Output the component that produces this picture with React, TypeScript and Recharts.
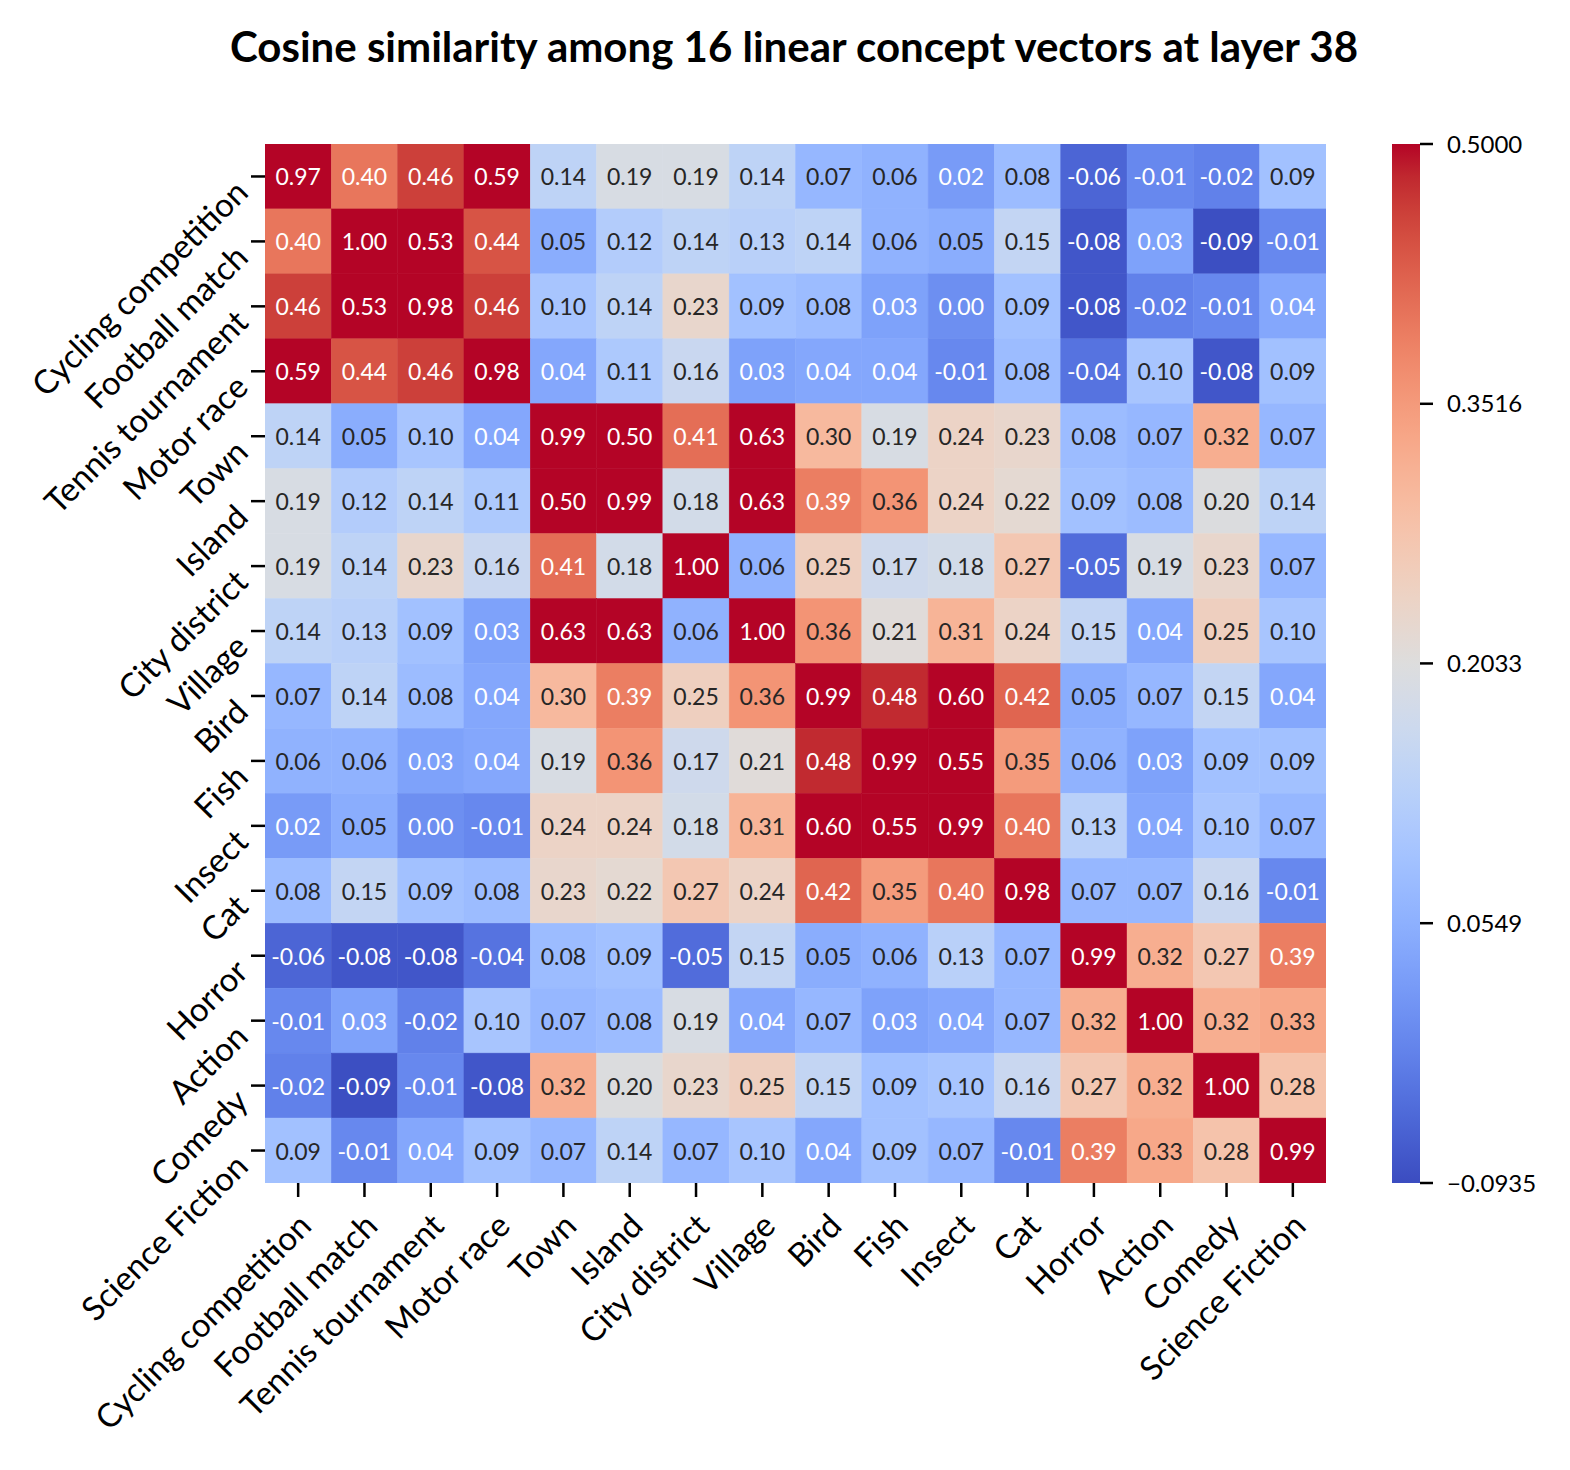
import React from 'react';
import { ScatterChart, Scatter, XAxis, YAxis, BarChart, Bar } from 'recharts';

const TITLE = 'Cosine similarity among 16 linear concept vectors at layer 38';

const concepts = [
  'Cycling competition', 'Football match', 'Tennis tournament', 'Motor race',
  'Town', 'Island', 'City district', 'Village',
  'Bird', 'Fish', 'Insect', 'Cat',
  'Horror', 'Action', 'Comedy', 'Science Fiction',
];

const rowCycling = [0.97, 0.40, 0.46, 0.59, 0.14, 0.19, 0.19, 0.14, 0.07, 0.06, 0.02, 0.08, -0.06, -0.01, -0.02, 0.09];
const rowFootball = [0.40, 1.00, 0.53, 0.44, 0.05, 0.12, 0.14, 0.13, 0.14, 0.06, 0.05, 0.15, -0.08, 0.03, -0.09, -0.01];
const rowTennis = [0.46, 0.53, 0.98, 0.46, 0.10, 0.14, 0.23, 0.09, 0.08, 0.03, 0.00, 0.09, -0.08, -0.02, -0.01, 0.04];
const rowMotor = [0.59, 0.44, 0.46, 0.98, 0.04, 0.11, 0.16, 0.03, 0.04, 0.04, -0.01, 0.08, -0.04, 0.10, -0.08, 0.09];
const rowTown = [0.14, 0.05, 0.10, 0.04, 0.99, 0.50, 0.41, 0.63, 0.30, 0.19, 0.24, 0.23, 0.08, 0.07, 0.32, 0.07];
const rowIsland = [0.19, 0.12, 0.14, 0.11, 0.50, 0.99, 0.18, 0.63, 0.39, 0.36, 0.24, 0.22, 0.09, 0.08, 0.20, 0.14];
const rowCity = [0.19, 0.14, 0.23, 0.16, 0.41, 0.18, 1.00, 0.06, 0.25, 0.17, 0.18, 0.27, -0.05, 0.19, 0.23, 0.07];
const rowVillage = [0.14, 0.13, 0.09, 0.03, 0.63, 0.63, 0.06, 1.00, 0.36, 0.21, 0.31, 0.24, 0.15, 0.04, 0.25, 0.10];
const rowBird = [0.07, 0.14, 0.08, 0.04, 0.30, 0.39, 0.25, 0.36, 0.99, 0.48, 0.60, 0.42, 0.05, 0.07, 0.15, 0.04];
const rowFish = [0.06, 0.06, 0.03, 0.04, 0.19, 0.36, 0.17, 0.21, 0.48, 0.99, 0.55, 0.35, 0.06, 0.03, 0.09, 0.09];
const rowInsect = [0.02, 0.05, 0.00, -0.01, 0.24, 0.24, 0.18, 0.31, 0.60, 0.55, 0.99, 0.40, 0.13, 0.04, 0.10, 0.07];
const rowCat = [0.08, 0.15, 0.09, 0.08, 0.23, 0.22, 0.27, 0.24, 0.42, 0.35, 0.40, 0.98, 0.07, 0.07, 0.16, -0.01];
const rowHorror = [-0.06, -0.08, -0.08, -0.04, 0.08, 0.09, -0.05, 0.15, 0.05, 0.06, 0.13, 0.07, 0.99, 0.32, 0.27, 0.39];
const rowAction = [-0.01, 0.03, -0.02, 0.10, 0.07, 0.08, 0.19, 0.04, 0.07, 0.03, 0.04, 0.07, 0.32, 1.00, 0.32, 0.33];
const rowComedy = [-0.02, -0.09, -0.01, -0.08, 0.32, 0.20, 0.23, 0.25, 0.15, 0.09, 0.10, 0.16, 0.27, 0.32, 1.00, 0.28];
const rowSciFi = [0.09, -0.01, 0.04, 0.09, 0.07, 0.14, 0.07, 0.10, 0.04, 0.09, 0.07, -0.01, 0.39, 0.33, 0.28, 0.99];

const matrix = [
  rowCycling, rowFootball, rowTennis, rowMotor, rowTown, rowIsland, rowCity, rowVillage,
  rowBird, rowFish, rowInsect, rowCat, rowHorror, rowAction, rowComedy, rowSciFi,
];

const VMIN = -0.0935;
const VMAX = 0.5;
const colorbarTicks = [-0.0935, 0.0549, 0.2033, 0.3516, 0.5];

// matplotlib coolwarm (Moreland) control points, 33 evenly spaced
const CW_R = [0.2298057, 0.26623388, 0.30386891, 0.342804478, 0.38301334, 0.424369608, 0.46666708, 0.509635204, 0.552953156, 0.596262162, 0.639176211, 0.681291281, 0.722193294, 0.761464949, 0.798691636, 0.833466556, 0.865395197, 0.897787179, 0.924127593, 0.944468518, 0.958852946, 0.96732803, 0.969954137, 0.966811177, 0.958003065, 0.943660866, 0.923944917, 0.89904617, 0.869186849, 0.834620542, 0.795631745, 0.752534934, 0.705673158];
const CW_G = [0.298717966, 0.353094838, 0.406535296, 0.458757618, 0.50941904, 0.558148092, 0.604562568, 0.648280772, 0.688929332, 0.726149107, 0.759599947, 0.788964712, 0.813952739, 0.834302879, 0.849786142, 0.860207984, 0.86541021, 0.848937047, 0.827384882, 0.800927443, 0.769767752, 0.734132809, 0.694266682, 0.650421156, 0.602842431, 0.551750968, 0.49730856, 0.439559467, 0.378313092, 0.312874446, 0.24128379, 0.157246067, 0.01555616];
const CW_B = [0.753683153, 0.801466763, 0.84495867, 0.883725899, 0.917387822, 0.945619588, 0.968154911, 0.98478814, 0.995375608, 0.999836203, 0.998151185, 0.990363227, 0.976574709, 0.956945269, 0.931688648, 0.901068838, 0.865395561, 0.820880546, 0.774508472, 0.726736146, 0.678007945, 0.628751763, 0.579375448, 0.530263762, 0.481775914, 0.434243684, 0.387970225, 0.343229596, 0.300267182, 0.259301199, 0.220525627, 0.184115123, 0.150232812];

const coolwarmRGB = (t: number): [number, number, number] => {
  const tt = Math.max(0, Math.min(1, t));
  const n = CW_R.length - 1;
  const pos = tt * n;
  const i = Math.min(n - 1, Math.floor(pos));
  const f = pos - i;
  const lerp = (a: number[]) => a[i] + (a[i + 1] - a[i]) * f;
  return [lerp(CW_R), lerp(CW_G), lerp(CW_B)];
};

const toHex = (rgb: [number, number, number]) =>
  '#' + rgb.map((c) => Math.round(c * 255).toString(16).padStart(2, '0')).join('');

const valueColor = (v: number) => coolwarmRGB((v - VMIN) / (VMAX - VMIN));

const luminance = (rgb: [number, number, number]) => {
  const lin = rgb.map((c) => (c <= 0.03928 ? c / 12.92 : Math.pow((c + 0.055) / 1.055, 2.4)));
  return 0.2126 * lin[0] + 0.7152 * lin[1] + 0.0722 * lin[2];
};

const N = concepts.length;
const cellPoints = matrix.flatMap((row, r) =>
  row.map((v, c) => ({ x: c + 0.5, y: r + 0.5, v })),
);
const tickPositions = concepts.map((_, i) => i + 0.5);

// layout
const W = 1570;
const H = 1470;
const PLOT_LEFT = 265;
const PLOT_RIGHT = 1326;
const PLOT_TOP = 144;
const PLOT_BOTTOM = 1183;
const Y_AXIS_W = 60;
const X_AXIS_H = 60;
const CELL_W = (PLOT_RIGHT - PLOT_LEFT) / N;
const CELL_H = (PLOT_BOTTOM - PLOT_TOP) / N;
const FONT = 'Lato, "DejaVu Sans", sans-serif';
const TICK_FONT = 33;

const HeatCell = (props: any) => {
  const { cx, cy, payload } = props;
  if (cx == null || cy == null || !payload) return null;
  const rgb = valueColor(payload.v);
  const fill = toHex(rgb);
  const textColor = luminance(rgb) > 0.408 ? '#262626' : '#ffffff';
  return (
    <g>
      <rect x={cx - CELL_W / 2} y={cy - CELL_H / 2} width={CELL_W} height={CELL_H} fill={fill} stroke={fill} strokeWidth={0.5} />
      <text x={cx} y={cy} textAnchor="middle" dominantBaseline="central" fontSize={23} fontFamily={FONT} fill={textColor}>
        {payload.v.toFixed(2)}
      </text>
    </g>
  );
};

const XTick = (props: any) => {
  const { x, y, payload } = props;
  const label = concepts[Math.floor(payload.value)];
  const ax = x + 15;
  const ay = y + 31;
  return (
    <text x={ax} y={ay} transform={`rotate(-45 ${ax} ${ay})`} textAnchor="end" fontSize={TICK_FONT} fontFamily={FONT} fill="#000">
      {label}
    </text>
  );
};

const YTick = (props: any) => {
  const { x, y, payload } = props;
  const label = concepts[Math.floor(payload.value)];
  const ax = x - 1;
  const ay = y + 18;
  return (
    <text x={ax} y={ay} transform={`rotate(-45 ${ax} ${ay})`} textAnchor="end" fontSize={TICK_FONT} fontFamily={FONT} fill="#000">
      {label}
    </text>
  );
};

const cbData = [{ k: 'cb', range: [VMIN, VMAX] }];
const gradientStops = CW_R.map((_, i) => i / (CW_R.length - 1));

const fmtCb = (v: number) => (v < 0 ? '\u2212' + Math.abs(v).toFixed(4) : v.toFixed(4));

export default function App() {
  return (
    <div style={{ position: 'absolute', left: 0, top: 0, width: W, height: H, background: '#fff', fontFamily: FONT }}>
      <div
        style={{
          position: 'absolute', left: 0, width: 1588, top: 25, textAlign: 'center',
          fontSize: 42, lineHeight: '42px', fontWeight: 700, color: '#000', fontFamily: FONT,
          whiteSpace: 'nowrap',
        }}
      >
        {TITLE}
      </div>
      <div style={{ position: 'absolute', left: 0, top: 0 }}>
        <ScatterChart
          width={W}
          height={H}
          margin={{ top: PLOT_TOP, right: W - PLOT_RIGHT, bottom: H - PLOT_BOTTOM - X_AXIS_H, left: PLOT_LEFT - Y_AXIS_W }}
        >
          <XAxis
            dataKey="x"
            type="number"
            domain={[0, N]}
            ticks={tickPositions}
            interval={0}
            height={X_AXIS_H}
            axisLine={false}
            tickSize={14}
            tickMargin={0}
            tickLine={{ stroke: '#000', strokeWidth: 2.5 }}
            tick={<XTick />}
            allowDataOverflow
          />
          <YAxis
            dataKey="y"
            type="number"
            domain={[0, N]}
            reversed
            ticks={tickPositions}
            interval={0}
            width={Y_AXIS_W}
            axisLine={false}
            tickSize={14}
            tickMargin={0}
            tickLine={{ stroke: '#000', strokeWidth: 2.5 }}
            tick={<YTick />}
            allowDataOverflow
          />
          <Scatter data={cellPoints} shape={HeatCell} isAnimationActive={false} />
        </ScatterChart>
      </div>
      <div style={{ position: 'absolute', left: 1372, top: 0 }}>
        <BarChart
          width={198}
          height={H}
          data={cbData}
          margin={{ top: PLOT_TOP, right: 20, bottom: H - PLOT_BOTTOM, left: 20 }}
          barCategoryGap={0}
        >
          <defs>
            <linearGradient id="cbgrad" x1="0" y1="1" x2="0" y2="0">
              {gradientStops.map((s) => (
                <stop key={s} offset={s} stopColor={toHex(coolwarmRGB(s))} />
              ))}
            </linearGradient>
          </defs>
          <XAxis dataKey="k" type="category" hide />
          <YAxis
            orientation="right"
            type="number"
            domain={[VMIN, VMAX]}
            ticks={colorbarTicks}
            interval={0}
            width={130}
            axisLine={false}
            tickSize={13}
            tickMargin={14}
            tickLine={{ stroke: '#000', strokeWidth: 2.5 }}
            tick={{ fill: '#000', fontSize: 24, fontFamily: FONT, textAnchor: 'start' }}
            tickFormatter={fmtCb}
            allowDataOverflow
          />
          <Bar dataKey="range" fill="url(#cbgrad)" isAnimationActive={false} />
        </BarChart>
      </div>
    </div>
  );
}
